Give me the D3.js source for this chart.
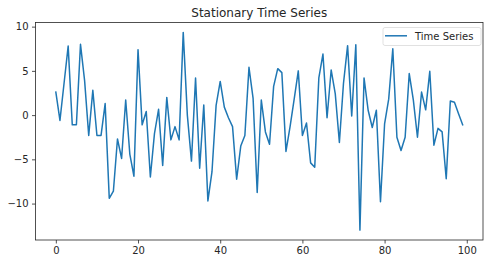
<!DOCTYPE html>
<html><head><meta charset="utf-8">
<script src="https://cdn.jsdelivr.net/npm/d3@7"></script>
<style>body{margin:0;background:#fff;} text{font-family:"DejaVu Sans",sans-serif;fill:#262626;}</style>
</head><body>
<svg id="c" width="488" height="264"></svg>
<script>
const title = "Stationary Time Series";
const seriesName = "Time Series";
const values = [2.6,-0.6,3.6,7.8,-1.1,-1.1,8.0,3.9,-2.3,2.8,
-2.3,-2.3,1.3,-9.4,-8.6,-2.7,-4.9,1.7,-4.4,-6.9,
7.4,-1.1,0.4,-7.0,-2.1,0.65,-5.7,2.0,-2.8,-1.3,
-2.8,9.35,0.0,-5.2,4.2,-6.0,1.15,-9.7,-6.4,1.1,
3.8,0.9,-0.3,-1.3,-7.25,-3.5,-2.3,5.4,1.9,-8.75,
1.7,-1.9,-3.3,3.25,5.25,4.8,-4.1,-1.3,1.8,5.0,
-2.3,-0.9,-5.4,-5.9,4.2,6.9,-0.3,5.1,2.4,-3.1,
3.6,7.85,-0.1,7.95,-13.0,4.2,0.55,-1.4,0.55,-9.8,
-1.0,1.8,7.5,-2.5,-4.0,-2.5,4.7,1.7,-2.5,2.6,
0.6,4.95,-3.4,-1.5,-1.9,-7.2,1.6,1.45,0.15,-1.1];
const xTicks = [0,20,40,60,80,100];
const yTicks = [-10,-5,0,5,10];

const svg = d3.select("#c");
const L=35.5, R=483, T=22.5, B=240;
const xMin=0, xMax=values.length-1, xPad=(xMax-xMin)*0.05;
const [yMin,yMax] = d3.extent(values), yPad=(yMax-yMin)*0.05;
const x = d3.scaleLinear().domain([xMin-xPad,xMax+xPad]).range([L,R]);
const y = d3.scaleLinear().domain([yMin-yPad,yMax+yPad]).range([B,T]);

const fmt = d => String(d).replace("-","\u2212");
const xAxis = svg.append("g").attr("transform",`translate(0,${B})`)
  .call(d3.axisBottom(x).tickValues(xTicks).tickSize(3.5).tickPadding(3.5).tickFormat(fmt));
const yAxis = svg.append("g").attr("transform",`translate(${L},0)`)
  .call(d3.axisLeft(y).tickValues(yTicks).tickSize(3.5).tickPadding(3.5).tickFormat(fmt));
[xAxis,yAxis].forEach(a=>{a.select(".domain").remove();
  a.selectAll(".tick line").attr("stroke","#262626").attr("stroke-width",0.8);
  a.selectAll(".tick text").attr("font-size",10).attr("font-family","DejaVu Sans").attr("fill","#262626");});

svg.append("path").datum(values)
  .attr("d", d3.line().x((d,i)=>x(i)).y(d=>y(d)))
  .attr("fill","none").attr("stroke","#1f77b4").attr("stroke-width",1.5)
  .attr("stroke-linejoin","round").attr("stroke-linecap","square");

svg.append("rect").attr("x",L).attr("y",T).attr("width",R-L).attr("height",B-T)
  .attr("fill","none").attr("stroke","#262626").attr("stroke-width",0.8);

svg.append("text").attr("x",(L+R)/2).attr("y",T-5.5).attr("text-anchor","middle")
  .attr("font-size",12).text(title);

const lg = svg.append("g");
lg.append("rect").attr("x",383).attr("y",27.5).attr("width",98).attr("height",18).attr("rx",2)
  .attr("fill","#fff").attr("fill-opacity",0.8).attr("stroke","#d9d9d9").attr("stroke-width",0.8);
lg.append("line").attr("x1",385).attr("x2",407).attr("y1",35.8).attr("y2",35.8)
  .attr("stroke","#1f77b4").attr("stroke-width",1.5);
lg.append("text").attr("x",415).attr("y",39.5).attr("font-size",10).text(seriesName);
</script>
</body></html>
